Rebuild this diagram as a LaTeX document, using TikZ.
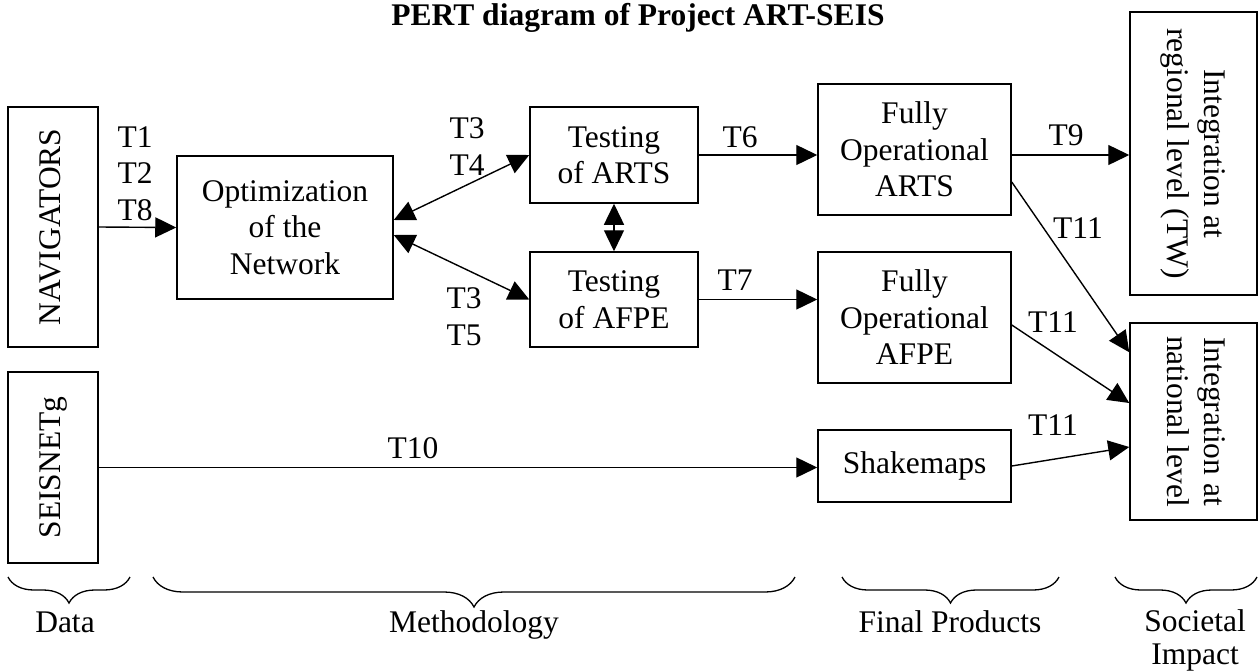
\documentclass[tikz,border=0pt]{standalone}
\usepackage{fontspec}
\setmainfont{Liberation Serif}
\usetikzlibrary{arrows.meta,calc,decorations.pathreplacing}
\begin{document}
\begin{tikzpicture}[x=1pt,y=-1pt,
  font=\fontsize{31.5}{36.5}\selectfont,
  box/.style={draw, line width=1.5pt, inner sep=0pt, align=center},
  lbl/.style={inner sep=0pt, align=center},
  conn/.style={line width=1.4pt, -{Triangle[length=21pt,width=20pt]}},
  dconn/.style={line width=1.4pt, {Triangle[length=21pt,width=20pt]}-{Triangle[length=21pt,width=20pt]}},
  brc/.style={decorate, decoration={brace, mirror, amplitude=#1pt}, line width=1.3pt},
]
\useasboundingbox (0,0) rectangle (1259,672);

% title
\node[lbl, font=\fontsize{31.5}{36.5}\selectfont\bfseries, anchor=base] (title) at (638,25) {PERT diagram of Project ART-SEIS};

% boxes
\node[box, minimum width=90pt, minimum height=240pt] (nav) at (53,227) {\rotatebox{90}{\strut NAVIGATORS}};
\node[box, minimum width=90pt, minimum height=191pt] (seis) at (53,467.5) {\rotatebox{90}{\strut SEISNETg}};
\node[box, minimum width=216pt, minimum height=143pt] (opt) at (285,227.5) {Optimization\\of the\\Network};
\node[box, minimum width=168pt, minimum height=96pt] (tarts) at (614,155) {Testing\\of ARTS};
\node[box, minimum width=168pt, minimum height=95pt] (tafpe) at (614,299.5) {Testing\\of AFPE};
\node[box, minimum width=193pt, minimum height=131pt] (foarts) at (914.5,149.5) {Fully\\Operational\\ARTS};
\node[box, minimum width=193pt, minimum height=131pt] (foafpe) at (914.5,317.5) {Fully\\Operational\\AFPE};
\node[box, minimum width=193pt, minimum height=72pt] (shake) at (914.5,466) {Shakemaps};
\node[box, minimum width=127pt, minimum height=283pt] (reg) at (1193.5,153.5) {\rotatebox{-90}{\begin{tabular}{@{}c@{}}Integration at\\regional level (TW)\end{tabular}}};
\node[box, minimum width=127pt, minimum height=197pt] (nat) at (1193.5,421.5) {\rotatebox{-90}{\begin{tabular}{@{}c@{}}Integration at\\national level\end{tabular}}};

% connectors
\draw[conn] (nav.east) -- (opt.west);
\draw[conn] (seis.east) -- (seis.east -| shake.west);
\draw[conn] (tarts.east) -- (tarts.east -| foarts.west);
\draw[conn] (tafpe.east) -- (tafpe.east -| foafpe.west);
\draw[conn] (tarts.east -| foarts.east) -- (tarts.east -| reg.west);
\draw[dconn] ($(opt.east)+(0,-7.5)$) -- (tarts.west);
\draw[dconn] ($(opt.east)+(0,7.5)$) -- (tafpe.west);
\draw[dconn] (tarts.south) -- (tafpe.north);
\draw[conn] ($(foarts.east)+(0,32.5)$) -- ($(nat.north west)+(0,30)$);
\draw[conn] ($(foafpe.east)+(0,7.5)$) -- ($(nat.west)+(0,-18.5)$);
\draw[conn] (shake.east) -- ($(nat.west)+(0,25.5)$);

% connector labels
\node[lbl] (l128) at (135,173.5) {T1\\T2\\T8};
\node[lbl] (l34) at (467,146.5) {T3\\T4};
\node[lbl] (l35) at (464,316.5) {T3\\T5};
\node[lbl] (l6) at (740,137) {T6};
\node[lbl] (l7) at (735,280) {T7};
\node[lbl] (l9) at (1066,135.5) {T9};
\node[lbl] (l11a) at (1078,228) {T11};
\node[lbl] (l11b) at (1053,322) {T11};
\node[lbl] (l11c) at (1053,425) {T11};
\node[lbl] (l10) at (413,448) {T10};

% braces
\draw[brc=26] (8,577) -- (130,577);
\draw[brc=30] (153,577) -- (795,577);
\draw[brc=26] (842,577) -- (1059,577);
\draw[brc=26] (1115,577) -- (1257,577);

\node[lbl, anchor=base] (ldata) at (65,632) {Data};
\node[lbl, anchor=base] (lmeth) at (474,632) {Methodology};
\node[lbl, anchor=base] (lfinal) at (950,632) {Final Products};
\node[lbl, font=\fontsize{31.5}{33}\selectfont] (lsoc) at (1195,640) {Societal\\Impact};
\end{tikzpicture}
\end{document}
